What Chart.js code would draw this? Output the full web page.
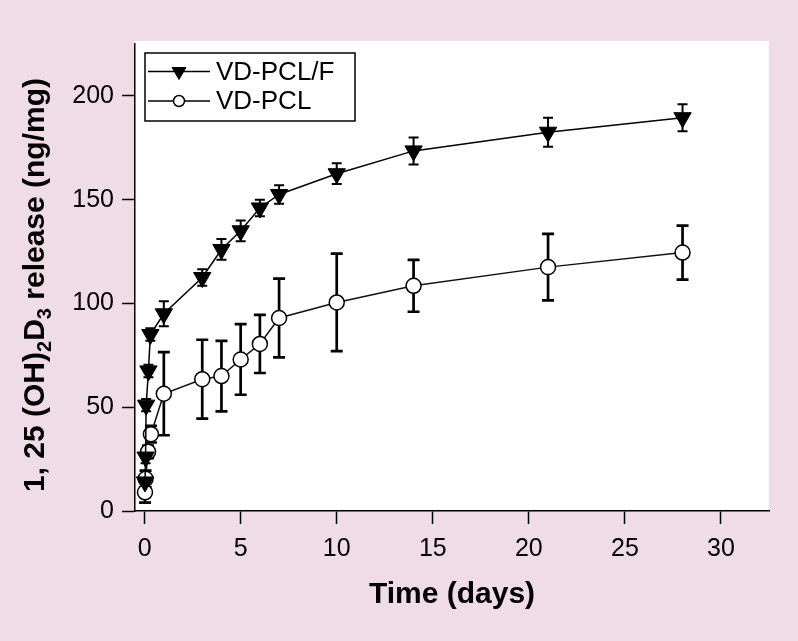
<!DOCTYPE html>
<html>
<head>
<meta charset="utf-8">
<script src="https://cdn.jsdelivr.net/npm/chart.js@4.4.1/dist/chart.umd.min.js"></script>
<style>
  body { margin: 0; background: #efdce6; }
  canvas { display: block; }
</style>
</head>
<body>
<canvas id="releaseChart" width="798" height="641"></canvas>
<script>
// values: time in days, release in ng/mg
const seriesNames = ['VD-PCL/F', 'VD-PCL'];

const timeF = [0.02, 0.05, 0.08, 0.2, 0.3, 1, 3, 4, 5, 6, 7, 10, 14, 21, 28];
const releaseF = [14, 26, 51, 67.5, 85, 95, 112.5, 126, 135, 146, 152.5, 162.5, 173.5, 182.5, 189.5];
const errF = [3, 3, 3, 3, 3, 6, 4, 5, 5, 4, 4.5, 5, 6.5, 7, 6.5];

const timeP = [0.02, 0.05, 0.18, 0.33, 1, 3, 4, 5, 6, 7, 10, 14, 21, 28];
const releaseP = [9, 15.5, 28.5, 37, 56.5, 63.5, 65, 73, 80.5, 93, 100.5, 108.5, 117.5, 124.5];
const errP = [5, 4, 3, 4, 20, 19, 17, 17, 14, 19, 23.5, 12.5, 16, 13];

const xTicks = [0, 5, 10, 15, 20, 25, 30];
const yTicks = [0, 50, 100, 150, 200];

const FONT = "'Liberation Sans', Arial, Helvetica, sans-serif";

function toPoints(xs, ys) {
  return xs.map((x, i) => ({ x: x, y: ys[i] }));
}

// white plot panel behind everything
const panel = {
  id: 'panel',
  beforeDraw(chart) {
    const a = chart.chartArea;
    const ctx = chart.ctx;
    ctx.save();
    ctx.fillStyle = '#fff';
    ctx.fillRect(a.left - 1, a.top - 3, a.right - a.left + 1, a.bottom - a.top + 3);
    ctx.restore();
  }
};

// error bars, drawn under the markers
const errorBars = {
  id: 'errorBars',
  beforeDatasetsDraw(chart) {
    const ctx = chart.ctx;
    const xs = chart.scales.x, ys = chart.scales.y;
    chart.data.datasets.forEach(ds => {
      ctx.save();
      ctx.strokeStyle = '#000';
      ctx.lineWidth = ds.errLine;
      ds.data.forEach((p, i) => {
        const px = xs.getPixelForValue(p.x);
        const top = ys.getPixelForValue(p.y + ds.errors[i]);
        const bot = ys.getPixelForValue(p.y - ds.errors[i]);
        const c = ds.capHalf;
        ctx.beginPath();
        ctx.moveTo(px, top); ctx.lineTo(px, bot);
        ctx.moveTo(px - c, top); ctx.lineTo(px + c, top);
        ctx.moveTo(px - c, bot); ctx.lineTo(px + c, bot);
        ctx.stroke();
      });
      ctx.restore();
    });
  }
};

// axis titles and the boxed legend
const labels = {
  id: 'labels',
  afterDraw(chart) {
    const ctx = chart.ctx;
    const a = chart.chartArea;
    ctx.save();
    ctx.fillStyle = '#000';

    // x title
    ctx.font = 'bold 30px ' + FONT;
    ctx.textAlign = 'center';
    ctx.textBaseline = 'alphabetic';
    ctx.fillText('Time (days)', (a.left + a.right) / 2, 603);

    // y title with subscripts
    const big = 'bold 30px ' + FONT, small = 'bold 20px ' + FONT;
    const parts = [
      ['1, 25 (OH)', big, 0], ['2', small, 7], ['D', big, 0], ['3', small, 7], [' release (ng/mg)', big, 0]
    ];
    let total = 0;
    parts.forEach(p => { ctx.font = p[1]; total += ctx.measureText(p[0]).width; });
    ctx.translate(44, 285);
    ctx.rotate(-Math.PI / 2);
    ctx.textAlign = 'left';
    let x = -total / 2;
    parts.forEach(p => {
      ctx.font = p[1];
      ctx.fillText(p[0], x, p[2]);
      x += ctx.measureText(p[0]).width;
    });
    ctx.setTransform(1, 0, 0, 1, 0, 0);

    // legend
    ctx.fillStyle = '#fff';
    ctx.fillRect(145, 53, 210, 68);
    ctx.strokeStyle = '#000';
    ctx.lineWidth = 1.5;
    ctx.strokeRect(145, 53, 210, 68);
    const rows = [71.5, 101];
    chart.data.datasets.forEach((ds, i) => {
      const y = rows[i];
      ctx.strokeStyle = '#000';
      ctx.lineWidth = 1.5;
      ctx.beginPath();
      ctx.moveTo(148, y); ctx.lineTo(210, y);
      ctx.stroke();
      ctx.fillStyle = ds.pointBackgroundColor;
      ctx.strokeStyle = '#000';
      ctx.lineWidth = ds.pointBorderWidth;
      Chart.helpers.drawPoint(ctx, {
        pointStyle: ds.pointStyle,
        rotation: ds.pointRotation || 0,
        radius: ds.legendRadius,
        borderWidth: ds.pointBorderWidth
      }, 179, y);
      ctx.fillStyle = '#000';
      ctx.font = '26px ' + FONT;
      ctx.textAlign = 'left';
      ctx.textBaseline = 'middle';
      ctx.fillText(ds.label, 216, y + 1);
    });
    ctx.restore();
  }
};

const tickFont = { family: FONT, size: 25 };
const axisGrid = {
  display: true, drawOnChartArea: false, drawTicks: true,
  tickLength: 13, tickWidth: 1.5, color: '#000'
};

new Chart(document.getElementById('releaseChart').getContext('2d'), {
  type: 'scatter',
  data: {
    datasets: [
      {
        label: seriesNames[0],
        data: toPoints(timeF, releaseF),
        errors: errF,
        errLine: 2,
        capHalf: 5,
        showLine: true,
        tension: 0,
        borderColor: '#000',
        borderWidth: 1.5,
        pointStyle: 'triangle',
        pointRotation: 180,
        pointRadius: 10,
        legendRadius: 8,
        pointBackgroundColor: '#000',
        pointBorderColor: '#000',
        pointBorderWidth: 1
      },
      {
        label: seriesNames[1],
        data: toPoints(timeP, releaseP),
        errors: errP,
        errLine: 2.7,
        capHalf: 6,
        showLine: true,
        tension: 0,
        borderColor: '#111',
        borderWidth: 1.5,
        pointStyle: 'circle',
        pointRadius: 7.5,
        legendRadius: 5.5,
        pointBackgroundColor: '#fff',
        pointBorderColor: '#000',
        pointBorderWidth: 1.5
      }
    ]
  },
  options: {
    responsive: false,
    animation: false,
    devicePixelRatio: 1,
    layout: { padding: { top: 44, right: 29, left: 0, bottom: 0 } },
    plugins: { legend: { display: false }, tooltip: { enabled: false } },
    scales: {
      x: {
        type: 'linear',
        min: -0.5,
        max: 32.5,
        afterBuildTicks: s => { s.ticks = xTicks.map(v => ({ value: v })); },
        afterFit: s => { s.height = 130; },
        ticks: { color: '#000', font: tickFont, padding: 10, maxRotation: 0 },
        grid: axisGrid,
        border: { display: true, color: '#000', width: 1.5 }
      },
      y: {
        type: 'linear',
        min: 0,
        max: 225,
        afterBuildTicks: s => { s.ticks = yTicks.map(v => ({ value: v })); },
        afterFit: s => { s.width = 135; },
        ticks: { color: '#000', font: tickFont, padding: 8 },
        grid: axisGrid,
        border: { display: true, color: '#000', width: 1.5 }
      }
    }
  },
  plugins: [panel, errorBars, labels]
});
</script>
</body>
</html>
